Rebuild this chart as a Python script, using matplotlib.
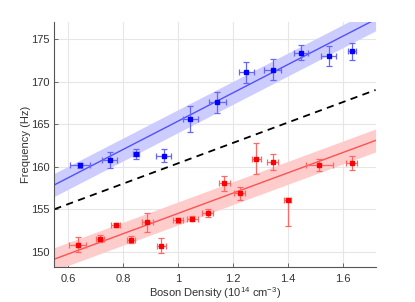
import matplotlib
matplotlib.use("Agg")
import matplotlib.pyplot as plt
import numpy as np

plt.rcParams['font.family'] = ['Liberation Sans', 'DejaVu Sans']
plt.rcParams['mathtext.fontset'] = 'custom'
plt.rcParams['mathtext.rm'] = 'Liberation Sans'

# Blue series
blue_x = [0.644, 0.751, 0.848, 0.948, 1.045, 1.144, 1.249, 1.345, 1.448, 1.549, 1.633]
blue_y = [160.15, 160.75, 161.5, 161.3, 165.63, 167.57, 171.1, 171.43, 173.45, 173.05, 173.6]
blue_xerr = [0.036, 0.028, 0.012, 0.028, 0.027, 0.03, 0.027, 0.03, 0.025, 0.026, 0.015]
blue_yerr = [0.3, 0.95, 0.63, 0.8, 1.5, 1.25, 1.21, 1.2, 0.9, 1.17, 1.0]

# Red series
red_x = [0.635, 0.716, 0.773, 0.829, 0.889, 0.940, 1.0, 1.053, 1.109, 1.168, 1.225, 1.286, 1.345, 1.400, 1.515, 1.633]
red_y = [150.8, 151.55, 153.1, 151.4, 153.45, 150.7, 153.7, 153.9, 154.57, 158.06, 156.85, 160.95, 160.56, 156.1, 160.2, 160.45]
red_xerr = [0.032, 0.014, 0.015, 0.015, 0.02, 0.015, 0.018, 0.02, 0.02, 0.02, 0.02, 0.017, 0.019, 0.012, 0.05, 0.019]
red_yerr_lo = [0.87, 0.4, 0.25, 0.43, 1.1, 0.87, 0.3, 0.3, 0.5, 0.87, 0.8, 1.8, 0.97, 3.1, 0.7, 0.87]
red_yerr_hi = [0.87, 0.4, 0.25, 0.43, 1.1, 0.87, 0.3, 0.3, 0.5, 0.87, 0.8, 1.8, 0.97, 0.2, 0.7, 0.87]

# Fit lines (intercept, slope) and band half-widths
blue_fit = (148.70, 16.66)
red_fit = (142.56, 11.94)
dash_fit = (148.40, 12.0)
blue_band = 1.35
red_band = 1.35

xlim = (0.55, 1.72)
ylim = (148.2, 177.0)
xticks = [0.6, 0.8, 1.0, 1.2, 1.4, 1.6]
xticklabels = ['0.6', '0.8', '1', '1.2', '1.4', '1.6']
yticks = [150, 155, 160, 165, 170, 175]

fig = plt.figure(figsize=(4.15, 3.02), dpi=100)
ax = fig.add_axes([0.131, 0.116, 0.774, 0.81])

xx = np.linspace(xlim[0], xlim[1], 200)
for (b, m), band, line_c, band_c in [(blue_fit, blue_band, '#4444ff', '#ccccff'),
                                     (red_fit, red_band, '#ff4444', '#ffcccc')]:
    yy = b + m * xx
    ax.fill_between(xx, yy - band, yy + band, color=band_c, lw=0, zorder=1)
    ax.plot(xx, yy, color=line_c, lw=1.0, alpha=0.9, zorder=2)

ax.plot(xx, dash_fit[0] + dash_fit[1] * xx, color='black', lw=1.3, ls=(0, (4, 3)), zorder=2)

ax.errorbar(blue_x, blue_y, xerr=blue_xerr, yerr=blue_yerr, fmt='s', color='#0000ff',
            ms=2.6, ecolor='#6666ff', elinewidth=0.9, capsize=2.5, capthick=0.9, zorder=3)
ax.errorbar(red_x, red_y, xerr=red_xerr, yerr=[red_yerr_lo, red_yerr_hi], fmt='s', color='#ff0000',
            ms=2.6, ecolor='#ff6666', elinewidth=0.9, capsize=2.5, capthick=0.9, zorder=3)

ax.set_xlim(*xlim)
ax.set_ylim(*ylim)
ax.set_xticks(xticks)
ax.set_xticklabels(xticklabels)
ax.set_yticks(yticks)
ax.grid(True, color='#e6e6e6', lw=0.8, zorder=0)
ax.set_axisbelow(True)
for s in ['top', 'right']:
    ax.spines[s].set_visible(False)
for s in ['left', 'bottom']:
    ax.spines[s].set_color('#555555')
    ax.spines[s].set_linewidth(0.8)
ax.tick_params(direction='in', length=3, width=0.6, colors='#555555', labelsize=8, labelcolor='#333333')
ax.tick_params(axis='x', pad=5)
ax.set_xlabel('Boson Density (10$^{14}$ cm$^{-3}$)', fontsize=8, color='#333333', labelpad=1)
ax.set_ylabel('Frequency (Hz)', fontsize=8, color='#333333', labelpad=0)

fig.savefig('out.png', dpi=100)
